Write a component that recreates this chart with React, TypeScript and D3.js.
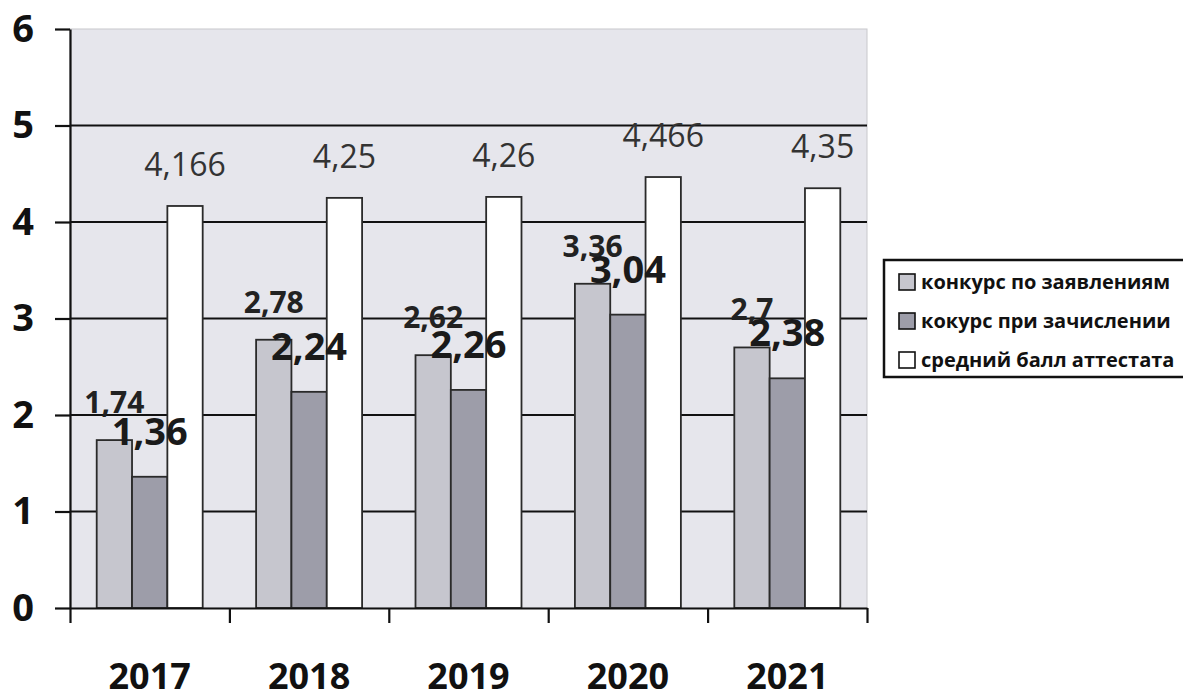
import { useEffect, useRef } from 'react'
import * as d3 from 'd3'

const years = ['2017', '2018', '2019', '2020', '2021']
const seriesNames = ['конкурс по заявлениям', 'кокурс при зачислении', 'средний балл аттестата']
const applications = [1.74, 2.78, 2.62, 3.36, 2.7]
const enrollment = [1.36, 2.24, 2.26, 3.04, 2.38]
const avgGrade = [4.166, 4.25, 4.26, 4.466, 4.35]
const yTicks = [0, 1, 2, 3, 4, 5, 6]

const colors = ['#c6c6ce', '#9d9da9', '#ffffff']
const font = '"Open Sans", "DejaVu Sans", sans-serif'

// label styles per series: size, weight, offset above bar top
const labelStyle = [
	{ size: 30, weight: 700, dy: 27, fill: '#222' },
	{ size: 38, weight: 700, dy: 32, fill: '#1a1a1a' },
	{ size: 32, weight: 400, dy: 30, fill: '#333' },
]

const fmt = (v: number) => String(v).replace('.', ',')

function Chart() {
	const ref = useRef<SVGSVGElement>(null)

	useEffect(() => {
		const svg = d3.select(ref.current)
		svg.selectAll('*').remove()

		const left = 70
		const right = 867
		const top = 29
		const bottom = 608

		const series = [applications, enrollment, avgGrade]

		const x = d3.scaleBand().domain(years).range([left, right]).paddingInner(0).paddingOuter(0)
		const xInner = d3.scaleBand<number>().domain([0, 1, 2]).range([0, x.bandwidth()]).paddingInner(0).paddingOuter(0.756)
		const y = d3.scaleLinear().domain([0, 6]).range([bottom, top])

		// plot area
		svg.append('rect')
			.attr('x', left).attr('y', top)
			.attr('width', right - left).attr('height', bottom - top)
			.attr('fill', '#e6e6ec')
			.attr('stroke', '#c8c8cc')
			.attr('stroke-width', 1)

		// gridlines
		svg.append('g')
			.selectAll('line')
			.data(yTicks.filter(t => t > 0 && t < 6))
			.join('line')
			.attr('x1', left).attr('x2', right)
			.attr('y1', d => y(d)).attr('y2', d => y(d))
			.attr('stroke', '#111')
			.attr('stroke-width', 2)

		// bars
		series.forEach((vals, si) => {
			svg.append('g')
				.selectAll('rect')
				.data(vals)
				.join('rect')
				.attr('x', (d, i) => (x(years[i]) || 0) + (xInner(si) || 0))
				.attr('y', d => y(d))
				.attr('width', xInner.bandwidth())
				.attr('height', d => bottom - y(d))
				.attr('fill', colors[si])
				.attr('stroke', '#2a2a2a')
				.attr('stroke-width', 1.8)
		})

		// data labels
		series.forEach((vals, si) => {
			const st = labelStyle[si]
			svg.append('g')
				.selectAll('text')
				.data(vals)
				.join('text')
				.attr('x', (d, i) => (x(years[i]) || 0) + (xInner(si) || 0) + xInner.bandwidth() / 2)
				.attr('y', d => y(d) - st.dy)
				.attr('text-anchor', 'middle')
				.attr('font-family', font)
				.attr('font-size', st.size)
				.attr('font-weight', st.weight)
				.attr('fill', st.fill)
				.text(d => fmt(d))
		})

		// y axis
		svg.append('g')
			.attr('transform', `translate(${left}, 0)`)
			.call(d3.axisLeft(y).tickValues(yTicks).tickSize(15).tickSizeOuter(0).tickPadding(21).tickFormat(d => String(d)))
			.call(g => g.select('.domain').attr('stroke', '#111').attr('stroke-width', 2.2))
			.call(g => g.selectAll('.tick line').attr('stroke', '#111').attr('stroke-width', 2.2))
			.call(g => g.selectAll('.tick text')
				.attr('font-family', font)
				.attr('font-size', 38)
				.attr('font-weight', 700)
				.attr('fill', '#111'))

		// x axis: ticks at category boundaries
		const xb = d3.scaleLinear().domain([0, years.length]).range([left, right])
		svg.append('g')
			.attr('transform', `translate(0, ${bottom})`)
			.call(d3.axisBottom(xb).ticks(years.length).tickSize(15).tickSizeOuter(0).tickFormat(() => ''))
			.call(g => g.select('.domain').attr('stroke', '#111').attr('stroke-width', 2.2))
			.call(g => g.selectAll('.tick line').attr('stroke', '#111').attr('stroke-width', 2.2))

		// year labels
		svg.append('g')
			.selectAll('text')
			.data(years)
			.join('text')
			.attr('x', d => (x(d) || 0) + x.bandwidth() / 2)
			.attr('y', 689)
			.attr('text-anchor', 'middle')
			.attr('font-family', font)
			.attr('font-size', 36)
			.attr('font-weight', 700)
			.attr('fill', '#111')
			.text(d => d)

		// legend
		const lg = svg.append('g')
		lg.append('rect')
			.attr('x', 884).attr('y', 260)
			.attr('width', 320).attr('height', 117)
			.attr('fill', '#fff')
			.attr('stroke', '#111')
			.attr('stroke-width', 2.5)
		const rows = [282, 321, 360]
		seriesNames.forEach((name, i) => {
			lg.append('rect')
				.attr('x', 899).attr('y', rows[i] - 8)
				.attr('width', 16).attr('height', 16)
				.attr('fill', colors[i])
				.attr('stroke', '#111')
				.attr('stroke-width', 1.6)
			lg.append('text')
				.attr('x', 921).attr('y', rows[i])
				.attr('dy', '0.35em')
				.attr('font-family', font)
				.attr('font-size', 20)
				.attr('font-weight', 700)
				.attr('fill', '#111')
				.text(name)
		})
	}, [])

	return <svg ref={ref} width={1183} height={700} style={{ position: 'absolute', left: 0, top: 0, background: '#fff' }} />
}

export default function App() {
	return <Chart />
}
